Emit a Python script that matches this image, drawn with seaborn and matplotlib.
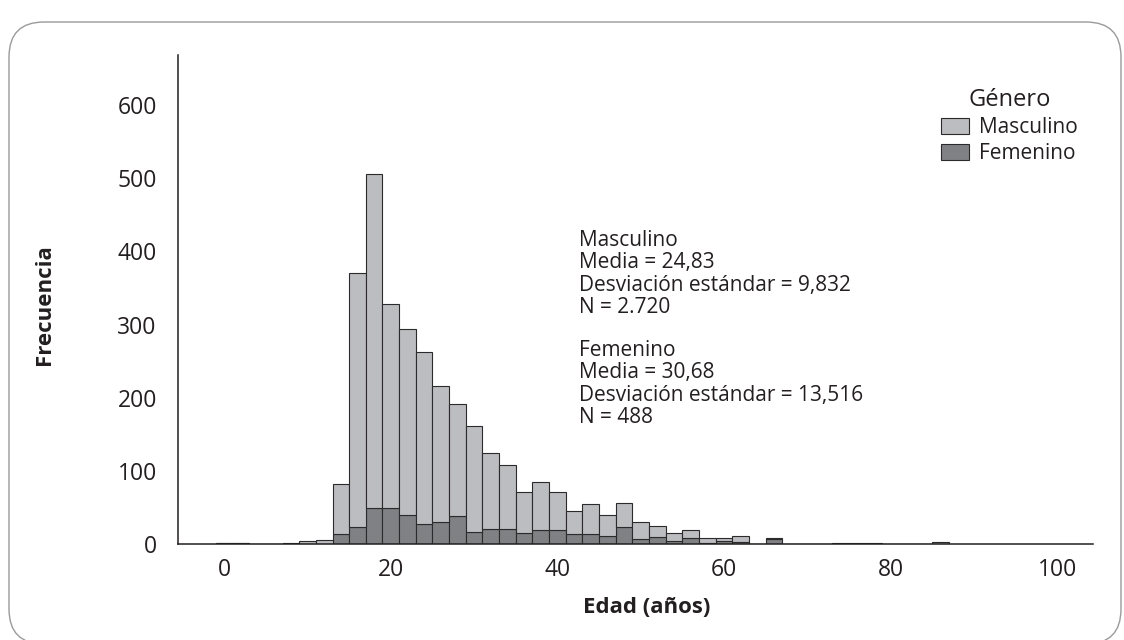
import numpy as np
import pandas as pd
import matplotlib.pyplot as plt
import seaborn as sns
from matplotlib.patches import FancyBboxPatch
from matplotlib.transforms import IdentityTransform

# age bins of width 2, starting at -1
bin_starts = list(range(-1, 87, 2))
masculino = [0, 0, 0, 0, 1, 4, 5, 68, 348, 457, 279, 254, 235, 186, 154, 145,
             103, 87, 55, 65, 51, 32, 41, 29, 33, 23, 15, 11, 12, 7, 3, 8,
             0, 2, 0, 1, 1, 1, 1, 1, 0, 0, 0, 3]
femenino = [2, 2, 0, 1, 1, 1, 1, 14, 23, 49, 49, 40, 28, 30, 38, 17,
            21, 21, 16, 20, 20, 14, 14, 11, 23, 7, 10, 4, 8, 2, 5, 3,
            1, 7, 1, 0, 0, 1, 1, 1, 0, 1, 0, 0]
generos = ['Masculino', 'Femenino']
x_ticks = [0, 20, 40, 60, 80, 100]
y_ticks = [0, 100, 200, 300, 400, 500, 600]

stats_masc = 'Masculino\nMedia = 24,83\nDesviación estándar = 9,832\nN = 2.720'
stats_fem = 'Femenino\nMedia = 30,68\nDesviación estándar = 13,516\nN = 488'

centers = [b + 1 for b in bin_starts]
edges = [bin_starts[0] + 2 * i for i in range(len(bin_starts) + 1)]
df = pd.DataFrame({
    'edad': centers * 2,
    'genero': ['Masculino'] * len(centers) + ['Femenino'] * len(centers),
    'n': masculino + femenino,
})

sns.set_style('white')
plt.rcParams['font.family'] = ['Open Sans', 'DejaVu Sans']
dark = '#231f20'

fig = plt.figure(figsize=(11.24, 6.4), dpi=100)
ax = fig.add_axes([0.158, 0.1495, 0.8144, 0.7645])

sns.histplot(data=df, x='edad', weights='n', hue='genero', hue_order=generos,
             multiple='stack', bins=edges, ax=ax, alpha=1,
             palette={'Masculino': '#bcbdc1', 'Femenino': '#808184'},
             edgecolor='#2b2b2b', linewidth=0.8)

ax.set_xlim(-5.6, 104.3)
ax.set_ylim(0, 668)
ax.set_xticks(x_ticks)
ax.set_yticks(y_ticks)
ax.tick_params(axis='both', which='major', labelsize=16.5, labelcolor=dark,
               color='#c8c8c8', direction='out', width=1)
ax.tick_params(axis='y', length=11, pad=4)
ax.tick_params(axis='x', length=7, pad=3)
ax.spines[['top', 'right']].set_visible(False)
for s in ['left', 'bottom']:
    ax.spines[s].set_color(dark)
    ax.spines[s].set_linewidth(1.1)

ax.set_xlabel('Edad (años)', fontsize=16, fontweight='bold', color=dark)
ax.set_ylabel('Frecuencia', fontsize=16, fontweight='bold', color=dark)
ax.xaxis.set_label_coords(0.513, -0.108)
ax.yaxis.set_label_coords(-0.134, 0.489)

sns.move_legend(ax, loc='upper left', bbox_to_anchor=(941 / 1124, 1 - 88 / 640),
                bbox_transform=fig.transFigure, title='Género', frameon=False,
                fontsize=15, title_fontsize=17, handlelength=1.35, handleheight=0.82,
                handletextpad=0.48, labelspacing=0.25, borderpad=0, borderaxespad=0)
leg = ax.get_legend()
for t in leg.get_texts():
    t.set_color(dark)
leg.get_title().set_color(dark)

fig.text(579 / 1124, 1 - 274 / 640, stats_masc, fontsize=15, color=dark,
         va='center', ha='left', linespacing=1.1)
fig.text(579 / 1124, 1 - 384 / 640, stats_fem, fontsize=15, color=dark,
         va='center', ha='left', linespacing=1.1)

# rounded frame around the figure
frame = FancyBboxPatch((9, -4), 1112, 622, boxstyle='round,pad=0,rounding_size=35',
                       transform=IdentityTransform(), facecolor='none',
                       edgecolor='#9a9a9a', linewidth=1)
fig.patches.append(frame)

fig.savefig('out.png', dpi=100)
